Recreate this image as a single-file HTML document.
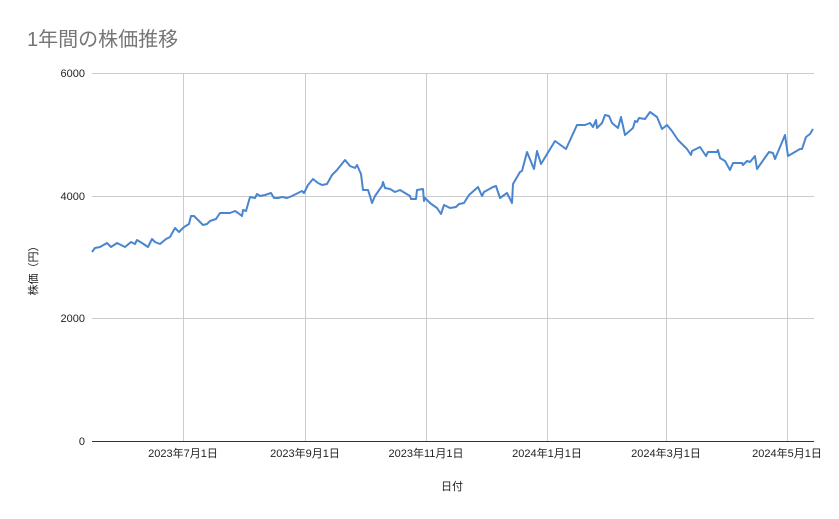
<!DOCTYPE html>
<html><head><meta charset="utf-8"><style>
body{margin:0;background:#fff;}
svg{display:block;font-family:"Liberation Sans","Noto Sans CJK JP",sans-serif;}
</style></head><body>
<svg width="839" height="519" viewBox="0 0 839 519">
<rect width="839" height="519" fill="#fff"/>
<text x="27" y="46" font-size="20" fill="#757575">1年間の株価推移</text>
<g stroke="#ccc" stroke-width="1">
<line x1="92" y1="73.5" x2="814" y2="73.5"/>
<line x1="92" y1="196.5" x2="814" y2="196.5"/>
<line x1="92" y1="318.5" x2="814" y2="318.5"/>
<line x1="183.5" y1="73" x2="183.5" y2="441"/>
<line x1="305.5" y1="73" x2="305.5" y2="441"/>
<line x1="426.5" y1="73" x2="426.5" y2="441"/>
<line x1="547.5" y1="73" x2="547.5" y2="441"/>
<line x1="666.5" y1="73" x2="666.5" y2="441"/>
<line x1="787.5" y1="73" x2="787.5" y2="441"/>
</g>
<line x1="92" y1="441.5" x2="814" y2="441.5" stroke="#333" stroke-width="1"/>
<g font-size="11" fill="#222" text-anchor="end">
<text x="85" y="77">6000</text>
<text x="85" y="200">4000</text>
<text x="85" y="322">2000</text>
<text x="85" y="445">0</text>
</g>
<g font-size="11" fill="#222" text-anchor="middle">
<text x="183" y="457">2023年7月1日</text>
<text x="305" y="457">2023年9月1日</text>
<text x="426" y="457">2023年11月1日</text>
<text x="547" y="457">2024年1月1日</text>
<text x="666" y="457">2024年3月1日</text>
<text x="787" y="457">2024年5月1日</text>
<text x="452" y="490">日付</text>
</g>
<text transform="translate(37,268) rotate(-90)" font-size="11" fill="#222" text-anchor="middle">株価（円）</text>
<polyline fill="none" stroke="#4a86cf" stroke-width="2" stroke-linejoin="round" points="92,252 95,248 100,247 107,243 111,247 117,243 125,247 131,242 135,244 137,240 142,243 148,247 152,239 155,242 160,244 166,239 170,237 175,228 179,232 184,227 189,224 191,216 194,216 197,219 203,225 207,224 210,221 216,219 220,213 225,213 230,213 235,211 238,213 242,216 243,210 246,211 250,197 255,198 257,194 260,196 265,195 271,193 274,198 278,198 282,197 287,198 292,196 298,193 302,191 304,193 308,185 313,179 318,183 322,185 327,184 332,175 337,170 345,160 350,166 355,168 357,165 361,174 363,190 368,190 370,196 372,203 375,196 382,186 383,182 385,188 390,189 395,192 400,190 405,193 410,196 411,199 416,199 417,190 423,189 424,201 425,198 430,203 437,208 441,214 444,205 450,208 456,207 459,204 464,203 469,195 478,187 482,196 484,192 493,187 496,186 500,198 507,193 512,203 513,184 520,172 522,171 527,152 534,169 537,151 541,164 555,141 566,149 577,125 585,125 590,123 593,127 596,120 597,128 602,123 605,115 609,116 612,123 618,128 621,117 625,135 633,128 635,121 637,122 639,118 645,119 650,112 657,117 662,129 667,125 672,131 678,140 687,149 691,155 692,151 700,147 706,156 708,152 717,152 718,150 720,158 725,161 730,170 733,163 742,163 743,165 747,161 750,162 755,156 757,169 769,152 773,153 775,159 785,135 788,156 800,149 802,149 806,137 810,134 813,129"/>
</svg>
</body></html>
